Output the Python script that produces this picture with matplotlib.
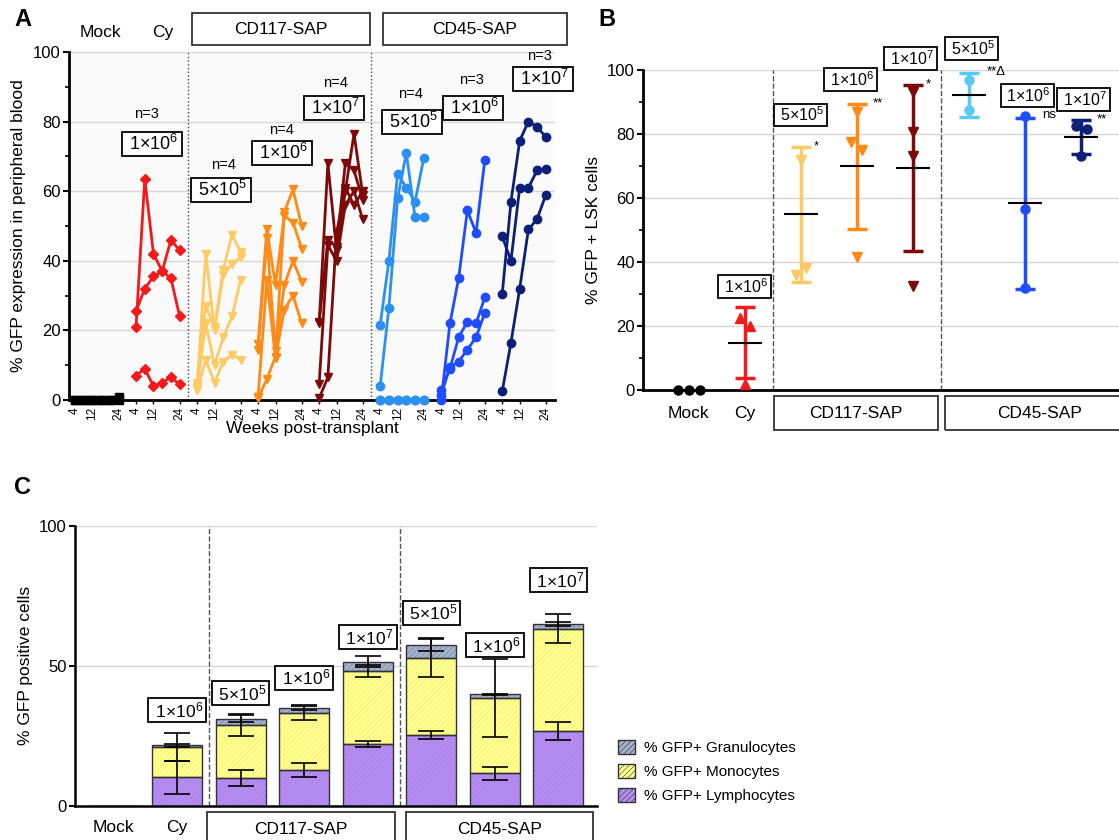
import matplotlib
matplotlib.use("Agg")
import matplotlib.pyplot as plt
import matplotlib.transforms as mtransforms
from matplotlib.patches import Rectangle, Patch
import numpy as np

plt.rcParams['font.family'] = ['Liberation Sans', 'DejaVu Sans']
plt.rcParams['mathtext.fontset'] = 'custom'
plt.rcParams['mathtext.rm'] = 'Liberation Sans'
plt.rcParams['mathtext.it'] = 'Liberation Sans:italic'
plt.rcParams['mathtext.bf'] = 'Liberation Sans:bold'
plt.rcParams['hatch.linewidth'] = 0.4

# ---------------- data ----------------
groups = ["Mock", "Cy", "CD117 5e5", "CD117 1e6", "CD117 1e7", "CD45 5e5", "CD45 1e6", "CD45 1e7"]
dose_labels = ["", "1×10$^{6}$", "5×10$^{5}$", "1×10$^{6}$", "1×10$^{7}$",
               "5×10$^{5}$", "1×10$^{6}$", "1×10$^{7}$"]
n_labels = ["", "n=3", "n=4", "n=4", "n=4", "n=4", "n=3", "n=3"]

# panel A: % GFP in peripheral blood, one list per mouse
weeks = [4, 8, 12, 16, 20, 24]
week_ticks = [4, 12, 24]
pb_mock = [[0, 0, 0, 0, 0, 0], [0, 0, 0, 0, 0, 0.8]]
pb_cy = [[21, 63.5, 42, 37, 35, 24],
         [25.5, 32, 35.5, 37, 46, 43],
         [7, 9, 4, 5, 6.5, 4.5]]
pb_117_5e5 = [[3.5, 42, 20, 36, 39, 41],
              [5, 27, 21, 37.5, 47.5, 42.5],
              [4, 22, 10, 18, 24, 34.5],
              [3, 11.5, 5, 11, 13, 11.5]]
pb_117_1e6 = [[16, 49, 33, 53, 51, 43.5],
              [14.5, 46.5, 14, 33, 40, 34],
              [1, 34.5, 12, 26, 30, 22],
              [0.5, 6, 12.5, 54, 60.5, 50]]
pb_117_1e7 = [[22, 68, 43, 60, 76.5, 59],
              [22.5, 46, 44, 68, 66, 57.5],
              [4.5, 44.5, 40, 56, 60, 52],
              [0.5, 6.5, 48, 61, 56, 60]]
pb_45_5e5 = [[0, 0, 0, 0, 0, 0],
             [4, 26.5, 58, 71, 52.5, 52.5],
             [21.5, 40, 65, 61, 57, 69.5],
             [0, 0, 0, 0, 0, 0]]
pb_45_1e6 = [[0, 22, 35, 54.5, 48, 69],
             [3, 9, 18, 22.5, 22, 29.5],
             [1.5, 9.5, 11, 14.5, 18, 25]]
pb_45_1e7 = [[30.5, 57, 74.5, 80, 78.5, 75.5],
             [47, 40, 61, 61, 66, 66.5],
             [2.5, 16.5, 32, 49, 52, 59]]
pb_all = [pb_mock, pb_cy, pb_117_5e5, pb_117_1e6, pb_117_1e7, pb_45_5e5, pb_45_1e6, pb_45_1e7]

# panel B: % GFP+ LSK cells
lsk_points = [[0, 0, 0], [22.5, 20, 2], [72, 36, 38], [87, 77.5, 75, 41.5],
              [93, 80.5, 73, 32.5], [97, 87.5], [85.5, 56.5, 32], [82.5, 81.5, 73]]
lsk_mean = [0, 14.8, 54.9, 70, 69.4, 92.3, 58.3, 79.2]
lsk_hi = [0, 25.9, 76, 89.5, 95.3, 99.2, 85, 84.4]
lsk_lo = [0, 3.7, 33.6, 50.3, 43.3, 85.4, 31.7, 73.8]
lsk_sig = ["", "", "*", "**", "*", "**Δ", "ns", "**"]

# panel C: lineage breakdown, segment heights and errors
lymph = [0, 10.2, 9.9, 12.8, 22.1, 25.3, 11.6, 26.7]
mono = [0, 10.7, 19.0, 20.3, 26.1, 27.6, 27.0, 36.6]
gran = [0, 0.7, 2.3, 2.0, 3.3, 4.7, 1.2, 1.6]
lymph_err = [0, 6.0, 2.8, 2.6, 1.0, 1.4, 2.4, 3.1]
mono_err = [0, 5.0, 3.8, 2.4, 2.1, 6.8, 13.9, 5.1]
gran_err = [0, 0.5, 1.3, 0.8, 2.0, 2.3, 0.3, 0.8]

# ---------------- style ----------------
col_a = ['black', '#f21a1a', '#ffc964', '#ff8a16', '#7c0a0a', '#2b90f2', '#1e4cff', '#0e1f7a']
col_b = ['black', '#f21a1a', '#ffc964', '#ff8a16', '#7c0a0a', '#5cc8f5', '#1e4cff', '#0e1f7a']
mk_a = ['s', 'D', 'v', 'v', 'v', 'o', 'o', 'o']
mk_b = ['o', '^', 'v', 'v', 'v', 'o', 'o', 'o']
GROUP_STEP = 28


def dose_box(ax, x, y, s, size=13):
    ax.text(x, y, " " + s + " ", ha='center', va='center', fontsize=size, clip_on=False, zorder=6,
            bbox=dict(boxstyle='square,pad=0.12', fc='white', ec='black', lw=1.3))


def group_box(ax, x0, x1, y0, y1, text, size=12.5):
    tr = mtransforms.blended_transform_factory(ax.transData, ax.transAxes)
    ax.add_patch(Rectangle((x0, y0), x1 - x0, y1 - y0, transform=tr, fill=False,
                           ec='#333333', lw=1.3, clip_on=False))
    ax.text((x0 + x1) / 2, (y0 + y1) / 2, text, transform=tr, ha='center', va='center',
            fontsize=size, clip_on=False)


def plain_label(ax, x, y, text, size=12.5):
    tr = mtransforms.blended_transform_factory(ax.transData, ax.transAxes)
    ax.text(x, y, text, transform=tr, ha='center', va='center', fontsize=size, clip_on=False)


def style_yaxis(ax):
    ax.tick_params(axis='y', labelsize=12, width=1.5, length=4, pad=2)
    ax.tick_params(axis='y', which='minor', width=1.2, length=3)
    for s in ['top', 'right']:
        ax.spines[s].set_visible(False)
    ax.spines['left'].set_linewidth(2)
    ax.spines['bottom'].set_linewidth(2)
    ax.yaxis.grid(True, color='#d6d6d6', lw=1)
    ax.set_axisbelow(True)


fig = plt.figure(figsize=(11.19, 8.40), dpi=100)

# ---------------- panel A ----------------
ax_a = fig.add_axes([69 / 1119, 1 - 400 / 840, 486 / 1119, 348 / 840])
ax_a.set_facecolor('#fafafa')
for gi, mice in enumerate(pb_all):
    xs = [gi * GROUP_STEP + w for w in weeks]
    for m in mice:
        ax_a.plot(xs, m, color=col_a[gi], marker=mk_a[gi], ms=6 if mk_a[gi] != 'D' else 5,
                  lw=2, clip_on=False, zorder=3)

ax_a.set_xlim(1.25, 224.2)
ax_a.set_ylim(0, 100)
ax_a.set_yticks(range(0, 101, 20))
ax_a.set_yticks(range(10, 100, 20), minor=True)
xt = [gi * GROUP_STEP + w for gi in range(len(groups)) for w in week_ticks]
ax_a.set_xticks(xt)
ax_a.set_xticklabels([str(w) for gi in range(len(groups)) for w in week_ticks],
                     rotation=90, fontsize=8.5)
ax_a.tick_params(axis='x', length=3, width=1, pad=2)
style_yaxis(ax_a)
ax_a.set_ylabel('% GFP expression in peripheral blood', fontsize=12.5, labelpad=5)
ax_a.set_xlabel('Weeks post-transplant', fontsize=12.5, labelpad=1)
for xd in [56, 140]:
    ax_a.axvline(xd, color='#444444', ls=':', lw=1)

a_n_pos = [None, (37, 82.2), (71.9, 67.5), (98.5, 77.6), (123.7, 91.1),
           (157.7, 87.9), (185.7, 92), (217.3, 98.9)]
a_box_pos = [None, (39.3, 73.6), (71, 60.3), (99, 71), (122.8, 83.9),
             (158.6, 79.9), (186.6, 83.9), (218.7, 92.2)]
for gi in range(1, len(groups)):
    ax_a.text(*a_n_pos[gi], n_labels[gi], ha='center', va='center', fontsize=10.5, clip_on=False)
    dose_box(ax_a, *a_box_pos[gi], dose_labels[gi])

plain_label(ax_a, 15.5, 1.057, 'Mock')
plain_label(ax_a, 44.4, 1.057, 'Cy')
group_box(ax_a, 57.7, 139.3, 1.020, 1.112, 'CD117-SAP')
group_box(ax_a, 145.3, 229.7, 1.020, 1.112, 'CD45-SAP')

# ---------------- panel B ----------------
ax_b = fig.add_axes([643 / 1119, 1 - 390 / 840, 476 / 1119, 320 / 840])
b_jitter = [[-0.19, 0, 0.19], [-0.095, 0.095, 0], [0, -0.09, 0.095], [0, -0.1, 0.09, 0],
            [0, 0, 0, 0], [0, 0], [0, 0, 0], [-0.09, 0.1, 0]]
for gi in range(len(groups)):
    c = col_b[gi]
    if lsk_hi[gi] > lsk_lo[gi]:
        ax_b.vlines(gi, lsk_lo[gi], lsk_hi[gi], color=c, lw=2.5, zorder=3)
        ax_b.hlines([lsk_lo[gi], lsk_hi[gi]], gi - 0.18, gi + 0.18, color=c, lw=2.5, zorder=3)
        ax_b.hlines(lsk_mean[gi], gi - 0.31, gi + 0.31, color='black', lw=1.5, zorder=4)
    xs = [gi + j for j in b_jitter[gi]]
    ax_b.plot(xs, lsk_points[gi], ls='none', marker=mk_b[gi], color=c, ms=6.5,
              clip_on=False, zorder=5)
    if lsk_sig[gi]:
        off = {'*': 0.27, '**': 0.37, '**Δ': 0.48, 'ns': 0.43}[lsk_sig[gi]]
        dy = 1.0 if lsk_sig[gi] == 'ns' else 0.2
        ax_b.text(gi + off, lsk_hi[gi] + dy, lsk_sig[gi], ha='center', va='center',
                  fontsize=9.5, clip_on=False)

b_box_pos = [None, (1, 32.3), (2, 86), (2.89, 97), (3.96, 103.6),
             (5.05, 106.8), (6.04, 92), (7.05, 90.8)]
for gi in range(1, len(groups)):
    dose_box(ax_b, *b_box_pos[gi], dose_labels[gi], size=11.5)

ax_b.set_xlim(-0.82, 7.68)
ax_b.set_ylim(0, 100)
ax_b.set_yticks(range(0, 101, 20))
ax_b.set_yticks(range(10, 100, 20), minor=True)
ax_b.set_xticks([])
style_yaxis(ax_b)
ax_b.set_ylabel('% GFP + LSK cells', fontsize=12.5, labelpad=4)
for xd in [1.5, 4.5]:
    ax_b.axvline(xd, color='#555555', ls='--', lw=1)
plain_label(ax_b, 0, -0.072, 'Mock')
plain_label(ax_b, 1, -0.072, 'Cy')
group_box(ax_b, 1.52, 4.45, -0.125, -0.019, 'CD117-SAP')
group_box(ax_b, 4.57, 7.95, -0.125, -0.019, 'CD45-SAP')

# ---------------- panel C ----------------
ax_c = fig.add_axes([75 / 1119, 1 - 806 / 840, 522 / 1119, 280.3 / 840])
xc = np.arange(len(groups))
lymph = np.array(lymph)
mono = np.array(mono)
gran = np.array(gran)
bw = 0.79
seg_style = [
    (lymph, np.zeros(len(groups)), '#b58df0', '#a07ae6', '% GFP+ Lymphocytes'),
    (mono, lymph, '#ffff8e', '#ecea78', '% GFP+ Monocytes'),
    (gran, lymph + mono, '#a4b2cc', '#6f7f9f', '% GFP+ Granulocytes'),
]
for h, b, fc, hc, lab in seg_style:
    ax_c.bar(xc, h, bw, bottom=b, color=fc, edgecolor=hc, hatch='//////', lw=0, zorder=2)
    ax_c.bar(xc, h, bw, bottom=b, fill=False, edgecolor='#333333', lw=1, zorder=3)

tops = [lymph, lymph + mono, lymph + mono + gran]
for top, err in zip(tops, [lymph_err, mono_err, gran_err]):
    keep = top > 0
    ax_c.errorbar(xc[keep], top[keep], yerr=np.array(err)[keep], fmt='none', ecolor='black',
                  elinewidth=1.2, capsize=9.5, capthick=1.2, zorder=4)

c_box_pos = [None, (1, 34.2), (2, 40.3), (3, 45.7), (4, 60.3), (5, 68.9), (6, 57.4), (7, 80.6)]
for gi in range(1, len(groups)):
    dose_box(ax_c, *c_box_pos[gi], dose_labels[gi], size=12.5)

ax_c.set_xlim(-0.61, 7.61)
ax_c.set_ylim(0, 100)
ax_c.set_yticks([0, 50, 100])
ax_c.set_xticks([])
style_yaxis(ax_c)
ax_c.spines['left'].set_linewidth(1.8)
ax_c.spines['bottom'].set_linewidth(1.8)
ax_c.set_ylabel('% GFP positive cells', fontsize=12.5, labelpad=4)
for xd in [1.5, 4.5]:
    ax_c.axvline(xd, color='#555555', ls='--', lw=1)
plain_label(ax_c, 0, -0.078, 'Mock')
plain_label(ax_c, 1, -0.078, 'Cy')
group_box(ax_c, 1.47, 4.43, -0.15, -0.021, 'CD117-SAP')
group_box(ax_c, 4.61, 7.55, -0.15, -0.021, 'CD45-SAP')

handles = [Patch(facecolor=fc, edgecolor=hc, hatch='//////', lw=0)
           for _, _, fc, hc, _ in seg_style[::-1]]
labels = [lab for *_, lab in seg_style[::-1]]
leg = fig.legend(handles, labels, loc='upper left', bbox_to_anchor=(604 / 1119, 1 - 726 / 840),
                 frameon=False, fontsize=11, handlelength=1.1, handleheight=1.1,
                 labelspacing=0.55, handletextpad=0.6)
for p in leg.get_patches():
    p.set_edgecolor('#333333')
    p.set_linewidth(1)

# panel letters
fig.text(14 / 1119, 1 - 20 / 840, 'A', fontsize=17, fontweight='bold', va='center')
fig.text(598 / 1119, 1 - 20 / 840, 'B', fontsize=17, fontweight='bold', va='center')
fig.text(14 / 1119, 1 - 487 / 840, 'C', fontsize=17, fontweight='bold', va='center')

fig.savefig('out.png', dpi=100)
